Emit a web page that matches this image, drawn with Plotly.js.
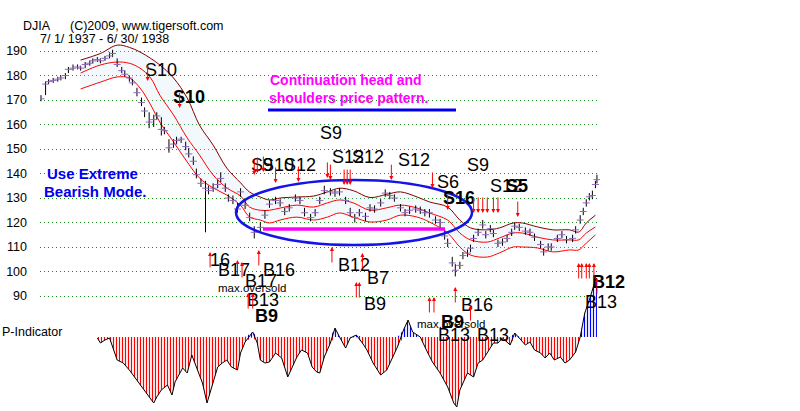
<!DOCTYPE html>
<html>
<head>
<meta charset="utf-8">
<script src="https://cdn.plot.ly/plotly-3.0.1.min.js"></script>
<style>html,body{margin:0;padding:0;background:#fff;}#chart{width:800px;height:411px;}</style>
</head>
<body>
<div id="chart"></div>
<script>
// ---------- DATA (days since 1 Jul 1937) ----------
const priceDay = [0,3,5,8,11,13,16,18,21,24,26,29,32,34,37,39,42,45,47,50,53,55,58,60,63,66,68,71,74,76,79,81,84,87,89,92,95,97,100,102,105,108,110,113,116,118,121,123,126,129,131,134,137,140,144,147,150,154,157,160,163,167,170,173,177,180,183,186,190,193,196,200,203,206,209,213,216,219,223,226,229,232,236,239,242,246,249,252,255,259,262,265,267,270,272,275,277,280,282,284,287,290,292,295,297,300,303,306,309,311,314,318,321,324,328,330,333,335,339,342,345,349,351,354,356,358,360,362,364,365];
const priceClose = [170.5,176.5,177.5,178,178.5,179,180,182.5,183,183.5,183,184.5,185,186,186.5,186,187,188,189,184.5,182,180.5,179,177,173,169,165.5,161,162,163.5,158,157.5,150.5,152,153.5,154,151,148,145,139.5,136,134,133,134,135.5,138,134,130,129,125.5,132.5,127,122,116,118,123,127.5,129,128,124.5,126,130,129,124,122,124,129,133,132.5,132,132.5,129,124,122,124,122.5,126,125.5,128,132,131,130,126,124,125,125.5,125,124,124,121,120,114.5,111.5,103.5,100.5,102.5,106.5,107.5,109.5,113.5,116,119,115,117.5,115.5,111.5,112,113.5,116,118.5,118,116.5,116,114,111,108,110,110,113.5,115,113,113.5,117,121,124.5,128,130.5,131,135.5,137.5];
const priceHigh = [172,177.5,178.5,179,179.5,180,181,183.5,184.5,184.5,184,185.5,186,187,187.5,187,188,189.5,190.5,187,183.5,182,180,178.5,175,171,167,165,164,165,163,159,154,154,155,155,153,150.5,147,142,138,137,135,136,137.5,140.5,136,131.5,131,128,134,129,124,118.5,120,125,129,130.5,129.5,126,127.5,131.5,130.5,126,123.5,125.5,130.5,135,134,133.5,134,130.5,126,123.5,125.5,124,127.5,127,129.5,133.5,132.5,131.5,127.5,125.5,126.5,127,126.5,125.5,125.5,122.5,121.5,117,113.5,106,103,104,108,109,111,115,117.5,121,116.5,119,117,113,113.5,115,117.5,120,119.5,118,117.5,115.5,112.5,109.5,111.5,111.5,115,116.5,114.5,115,118.5,123,126,129.5,132,133,137,139.5];
const priceLow = [169.5,172,176.5,177,177.5,178,178.5,181,182,182.5,182,183,184,185,185.5,185,186,187,187.5,183.5,181,179.5,177.5,176,171.5,167.5,163,158.5,159,162,155.5,156,148.5,150.5,152,152.5,149.5,146.5,143.5,138,134.5,116,131.5,132.5,134,136.5,132.5,128.5,127.5,124,130.5,125.5,120.5,113.5,116.5,121.5,126,127.5,126.5,123,124.5,128.5,127.5,122.5,120.5,122.5,127.5,131.5,131,130.5,131,127.5,122.5,120,122.5,120.5,124.5,124,126.5,130.5,129.5,128.5,124.5,122.5,123.5,124,123.5,122.5,122,119.5,117.5,113,110,102,98,101,105,106,108,112,114.5,117.5,113.5,116,114,110,110.5,112,114.5,117,116.5,115,114.5,112.5,109.5,106.5,108.5,108.5,112,113.5,111.5,112,115.5,119.5,123,126.5,129,129.5,134,136];

const bandDay = [26,39,50,58,65,72,78,87,96,104,113,122,131,137,144,150,157,168,179,188,196,205,216,227,236,247,255,267,275,282,293,301,310,316,326,336,347,353,358,364];
const bandUpper = [186.3,189,192.4,191.5,189.6,187,184.3,179,170.8,159.8,151.6,142.2,136.2,132.4,130.4,129.2,130,130.4,130.8,132.5,134,133,130.2,131.5,132.5,130.4,128.4,126.3,121,117.8,117,117.8,119.8,119.8,118.2,117,117,116.1,119.8,123];
const bandMiddle = [181,184.3,185.5,185,183,179,172,163.9,154.5,147.6,139.4,134.1,130.8,126.3,125,125,125.9,127.1,126.3,128,129.2,128,125,126,127.1,125.9,123.9,121,115.7,112.9,112,113.7,115.7,115.7,114,112.9,112.9,112.9,115.7,118.2];
const bandLower = [174.5,177.3,179.4,179,174.9,168,161,152.9,144.7,138.2,134.1,131.2,127,122.2,121,119.8,121,122.2,121,122.2,123.9,122.2,120.2,121,123,122.2,120.2,115.7,110,106.7,105.9,107.6,110,110,109.6,108,108.8,108.8,111.6,114.9];

const pDay = [37,39,42,45,50,54,58,63,68,74,76,79,83,86,88,93,96,99,102,106,109,112,116,119,122,125,129,131,134,139,142,144,147,150,154,158,162,165,168,171,175,178,181,183,186,190,193,196,200,203,207,211,214,218,223,227,230,234,238,241,244,249,253,257,262,267,271,273,275,277,280,284,287,290,293,297,300,303,308,311,314,318,321,324,328,331,334,337,341,344,347,351,354,357,360,364,365];
const pIndicator = [-1,-6,-3,-1,-23,-26,-33,-43,-53,-66,-60,-53,-48,-58,-45,-31,-36,-18,-30,-46,-66,-50,-30,-26,-23,-30,-33,-16,-5,5,-6,-23,-26,-25,-16,-21,-40,-30,-20,-13,-16,-30,-35,-36,-20,-6,9,0,-11,-1,2,-6,-13,-26,-38,-33,-23,-10,7,17,5,0,-13,-25,-36,-50,-66,-70,-53,-46,-36,-40,-26,-23,-16,-6,-6,-1,-8,4,-1,-8,-5,-13,-16,-21,-16,-23,-20,-26,-23,-15,0,24,37,57,59];

const sellDay = [70,91,140,142,146,154,169,188,190,199,201,203,230,257,267,284,287,290,293,297,300,313];
const sellPrice = [177.8,166.7,139.4,140.2,140.6,136.1,136.5,138.2,137.3,135.3,135.3,135.3,137.3,134.1,125.1,123.9,123.9,123.9,123.9,123.9,123.9,122.2];
const buyDay = [111,129,132,136,139,143,191,211,207,209,255,258,272,282,353,355,358,360,363,365];
const buyPrice = [108,104.7,103.9,91.2,91.2,108.8,110,107.6,95.7,95.7,89.6,89.6,93.7,86.3,103.5,103.5,103.5,103.5,103.5,97.3];

const yTicks = [90,100,110,120,130,140,150,160,170,180,190];

// ---------- LAYOUT HELPERS ----------
const ML = 40, PW = 560, PH = 411;
const FONT = 'Liberation Sans, Arial, sans-serif';
function px(x){ return (x - ML) / PW; }
function py(y){ return 1 - y / PH; }

// text labels: [text, left px, centre y px, size, colour]
const labels = [
  ['DJIA', 22, 26, 12.5, '#000'],
  ['(C)2009, www.tigersoft.com', 69, 26, 12.5, '#000'],
  ['7/ 1/ 1937 - 6/ 30/ 1938', 39, 39, 12.5, '#000'],
  ['P-Indicator', 1, 332, 12.5, '#000'],
  ['S10', 144, 70, 18, '#000'],
  ['<b>S10</b>', 172, 97, 18, '#000'],
  ['S9', 250, 165, 18, '#000'],
  ['S10', 261, 165, 18, '#000'],
  ['S12', 283, 165, 18, '#000'],
  ['S9', 319, 133, 18, '#000'],
  ['S12', 331, 157, 18, '#000'],
  ['S12', 351, 157, 18, '#000'],
  ['S12', 397, 160, 18, '#000'],
  ['S9', 466, 165, 18, '#000'],
  ['S6', 436, 182, 18, '#000'],
  ['<b>S16</b>', 442, 198, 18, '#000'],
  ['S12', 489, 186, 18, '#000'],
  ['<b>S5</b>', 505, 186, 18, '#000'],
  ['16', 209, 260, 18, '#000'],
  ['B17', 217, 270, 18, '#000'],
  ['B16', 262, 270, 18, '#000'],
  ['B17', 244, 281, 18, '#000'],
  ['max.oversold', 217, 288, 11.5, '#000'],
  ['B13', 246, 300, 18, '#000'],
  ['<b>B9</b>', 254, 316, 18, '#000'],
  ['B12', 337, 265, 18, '#000'],
  ['B7', 366, 278, 18, '#000'],
  ['B9', 363, 304, 18, '#000'],
  ['B16', 460, 305, 18, '#000'],
  ['max.oversold', 416, 324, 11.5, '#000'],
  ['<b>B9</b>', 440, 322, 18, '#000'],
  ['B13', 437, 335, 18, '#000'],
  ['B13', 476, 335, 18, '#000'],
  ['<b>B12</b>', 591, 282, 18, '#000'],
  ['B13', 584, 302, 18, '#000'],
  ['<b>Continuation head and</b>', 269, 80, 14, '#ff00ff'],
  ['<b>shoulders price pattern.</b>', 268, 98, 14, '#ff00ff'],
  ['<b>Use Extreme</b>', 46, 173, 15, '#0000ee'],
  ['<b>Bearish Mode.</b>', 43, 191, 15, '#0000ee']
];

// ---------- TRACES ----------
const hlX = [], hlY = [];
for (let i = 0; i < priceDay.length; i++) {
  hlX.push(priceDay[i], priceDay[i], null);
  hlY.push(priceLow[i], priceHigh[i], null);
}
const pNeg = pIndicator.map(v => Math.min(v, 0));
const pPos = pIndicator.map(v => Math.max(v, 0));

const traces = [
  {x: bandDay, y: bandLower, type: 'scatter', mode: 'lines', line: {color: '#ff0000', width: 1, shape: 'spline'}},
  {x: bandDay, y: bandMiddle, type: 'scatter', mode: 'lines', line: {color: '#ff0000', width: 1, shape: 'spline'},
   fill: 'tonexty', fillcolor: 'rgba(205,228,242,0.25)'},
  {x: bandDay, y: bandUpper, type: 'scatter', mode: 'lines', line: {color: '#800000', width: 1, shape: 'spline'},
   fill: 'tonexty', fillcolor: 'rgba(205,228,242,0.25)'},
  {x: hlX, y: hlY, type: 'scatter', mode: 'lines', line: {color: '#000', width: 1}, connectgaps: false},
  {x: priceDay, y: priceClose, type: 'scatter', mode: 'markers',
   marker: {symbol: 'line-ew-open', size: 5, line: {color: '#000', width: 1}}},
  {x: pDay, y: pNeg, yaxis: 'y2', type: 'scatter', mode: 'lines', line: {color: 'rgba(0,0,0,0)', width: 0},
   fill: 'tozeroy', fillpattern: {shape: '|', fgcolor: '#ff0000', bgcolor: 'rgba(255,255,255,0)', size: 3, solidity: 0.4}},
  {x: pDay, y: pPos, yaxis: 'y2', type: 'scatter', mode: 'lines', line: {color: 'rgba(0,0,0,0)', width: 0},
   fill: 'tozeroy', fillpattern: {shape: '|', fgcolor: '#0000ff', bgcolor: 'rgba(255,255,255,0)', size: 3, solidity: 0.4}},
  {x: pDay, y: pIndicator, yaxis: 'y2', type: 'scatter', mode: 'lines', line: {color: '#000', width: 1}}
];

// ---------- ANNOTATIONS ----------
const annotations = [];
labels.forEach(l => {
  annotations.push({xref: 'paper', yref: 'paper', x: px(l[1]), y: py(l[2]), xanchor: 'left', yanchor: 'middle',
    text: l[0], showarrow: false, borderpad: 0, font: {family: FONT, size: l[3], color: l[4]}});
});
sellDay.forEach((d, i) => {
  annotations.push({xref: 'x', yref: 'y', x: d, y: sellPrice[i], text: '', showarrow: true,
    ax: 0, ay: -17, arrowhead: 2, arrowsize: 0.8, arrowwidth: 1, arrowcolor: '#ff0000'});
});
buyDay.forEach((d, i) => {
  annotations.push({xref: 'x', yref: 'y', x: d, y: buyPrice[i], text: '', showarrow: true,
    ax: 0, ay: 17, arrowhead: 2, arrowsize: 0.8, arrowwidth: 1, arrowcolor: '#ff0000'});
});

const shapes = [
  {type: 'rect', xref: 'paper', yref: 'paper', x0: px(40), x1: px(162), y0: py(160), y1: py(232),
   fillcolor: '#fff', line: {width: 0}, layer: 'between'},
  {type: 'rect', xref: 'paper', yref: 'paper', x0: px(184), x1: px(199), y0: py(240), y1: py(300),
   fillcolor: '#fff', line: {width: 0}, layer: 'between'},
  {type: 'circle', xref: 'paper', yref: 'paper', x0: px(236), x1: px(472), y0: py(180), y1: py(245),
   line: {color: '#1414e6', width: 2.5}, layer: 'above'},
  {type: 'line', xref: 'paper', yref: 'paper', x0: px(263), x1: px(445), y0: py(229), y1: py(229),
   line: {color: '#ff00ff', width: 3.5}, layer: 'above'},
  {type: 'line', xref: 'paper', yref: 'paper', x0: px(268), x1: px(456), y0: py(110), y1: py(110),
   line: {color: '#0000ee', width: 3}, layer: 'above'}
];

const layout = {
  width: 800, height: 411,
  margin: {l: ML, r: 200, t: 0, b: 0, pad: 0},
  paper_bgcolor: '#fff', plot_bgcolor: '#fff',
  showlegend: false,
  font: {family: FONT, color: '#000'},
  xaxis: {range: [-0.66, 367.0], visible: true, showgrid: false, zeroline: false, showline: false,
          showticklabels: false, ticks: '', fixedrange: true},
  yaxis: {range: [43.06, 210.82], tickvals: yTicks, ticktext: yTicks.map(String), showgrid: true,
          gridcolor: '#1a8a1a', gridwidth: 1, griddash: '1px,3px', zeroline: false, showline: false,
          ticks: '', ticklabelstandoff: 12, tickfont: {family: FONT, size: 12.5, color: '#000'}},
  yaxis2: {range: [-74, 337], overlaying: 'y', visible: false, showgrid: false, zeroline: false},
  annotations: annotations,
  shapes: shapes
};

Plotly.newPlot('chart', traces, layout, {staticPlot: true, displayModeBar: false});
</script>
</body>
</html>
